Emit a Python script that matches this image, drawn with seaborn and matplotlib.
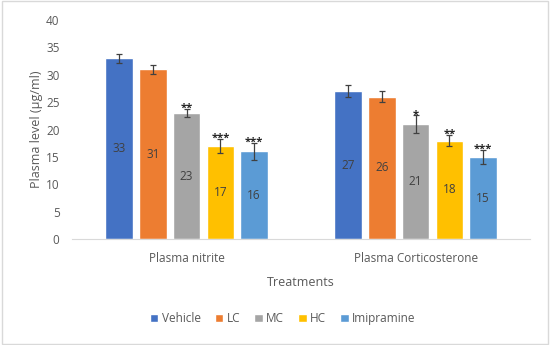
import matplotlib
matplotlib.use("Agg")
import matplotlib.pyplot as plt
import seaborn as sns
import pandas as pd
import numpy as np
from matplotlib.patches import Rectangle

# data
categories = ["Plasma nitrite", "Plasma Corticosterone"]
treatments = ["Vehicle", "LC", "MC", "HC", "Imipramine"]
nitrite = [33, 31, 23, 17, 16]
cortico = [27, 26, 21, 18, 15]
nitrite_err = [0.8, 0.8, 0.8, 1.3, 1.5]
cortico_err = [1.1, 1.05, 1.6, 1.0, 1.3]
nitrite_stars = ["", "", "**", "***", "***"]
cortico_stars = ["", "", "*", "**", "***"]
colors = ["#4472C4", "#ED7D31", "#A5A5A5", "#FFC000", "#5B9BD5"]

rows = []
for i, t in enumerate(treatments):
    rows.append({"cat": categories[0], "treat": t, "val": nitrite[i]})
    rows.append({"cat": categories[1], "treat": t, "val": cortico[i]})
df = pd.DataFrame(rows)

sns.set_style("white")
plt.rcParams["font.family"] = ["Open Sans", "DejaVu Sans"]
txt = "#595959"

fig = plt.figure(figsize=(5.5, 3.45), dpi=100)
ax = fig.add_axes([0.131, 0.307, 0.833, 0.635])

sns.barplot(data=df, x="cat", y="val", hue="treat", order=categories,
            hue_order=treatments, palette=colors, width=0.737, gap=0.186,
            errorbar=None, saturation=1, ax=ax, legend=True)

errs = [nitrite_err, cortico_err]
stars = [nitrite_stars, cortico_stars]
vals = [nitrite, cortico]
bar_groups = list(ax.containers)
for j, cont in enumerate(bar_groups):
    xs = [b.get_x() + b.get_width() / 2 for b in cont]
    ys = [vals[k][j] for k in range(2)]
    es = [errs[k][j] for k in range(2)]
    ax.errorbar(xs, ys, yerr=es, fmt="none", ecolor="#404040", elinewidth=0.9,
                capsize=2.5, capthick=0.9)
    ax.bar_label(cont, labels=[str(v) for v in ys], label_type="center",
                 fontsize=8.5, color="#404040")
    for k in range(2):
        if stars[k][j]:
            ax.text(xs[k], ys[k] + es[k] - 0.9, stars[k][j], ha="center", va="bottom",
                    fontsize=8, fontweight="bold", color="#262626")

ax.set_ylim(0, 40)
ax.set_xlim(-0.5, 1.5)
ax.set_yticks(np.arange(0, 41, 5))
ax.tick_params(axis="both", length=0, labelsize=8.5, labelcolor=txt)
ax.tick_params(axis="x", pad=9)
ax.tick_params(axis="y", pad=9)
for s in ["top", "right", "left"]:
    ax.spines[s].set_visible(False)
ax.spines["bottom"].set_color("#D9D9D9")
ax.set_xlabel("Treatments", fontsize=9, color=txt, labelpad=8)
ax.set_ylabel("Plasma level (µg/ml)", fontsize=9, color=txt, labelpad=2)

ax.legend(loc="upper center", bbox_to_anchor=(0.46, -0.285), ncol=5, frameon=False,
          fontsize=8.5, handlelength=0.7, handleheight=0.7, handletextpad=0.3,
          columnspacing=1.2, labelcolor=txt)

fig.patches.append(Rectangle((0.003, 0.004), 0.994, 0.992, transform=fig.transFigure,
                             fill=False, edgecolor="#D9D9D9", linewidth=1))

fig.savefig("out.png", dpi=100)
